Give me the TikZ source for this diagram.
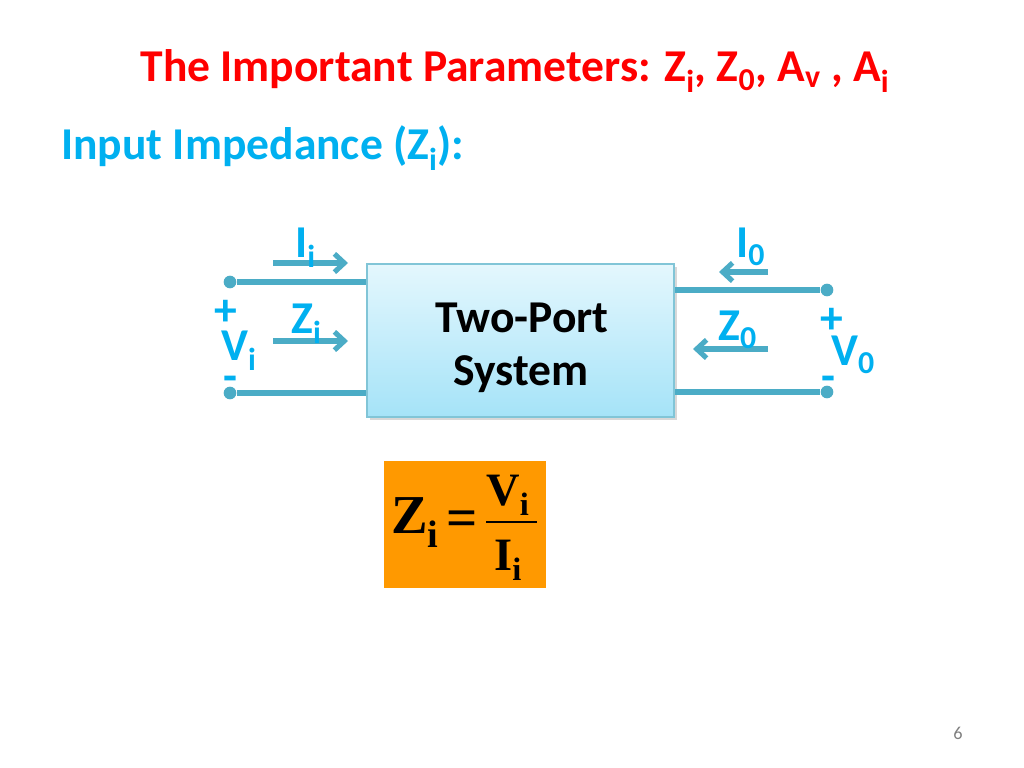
\documentclass[tikz,border=0pt]{standalone}
\usepackage{fontspec}
\setmainfont{Carlito}
\newfontfamily\tnr{Liberation Serif}
\usetikzlibrary{arrows.meta,positioning,shadows}
\definecolor{titlered}{HTML}{FF0000}
\definecolor{headblue}{HTML}{00B0F0}
\definecolor{wire}{HTML}{4BACC6}
\definecolor{boxtop}{HTML}{E4F7FD}
\definecolor{boxbot}{HTML}{A5E3F8}
\definecolor{formula}{HTML}{FF9900}
\tikzset{
  big/.style={font=\fontsize{32.4}{38}\selectfont\bfseries, inner sep=0pt},
  lbl/.style={big, text=headblue, anchor=base west},
  sign/.style={big, text=headblue},
  term/.style={circle, fill=wire, inner sep=0pt, minimum size=9pt},
  wireline/.style={draw=wire, line width=3.6pt},
  flow/.style={draw=wire, line width=3.6pt, -{Straight Barb[length=7pt,width=13pt]}},
  sysbox/.style={draw=wire!70, line width=0.8pt, top color=boxtop, bottom color=boxbot,
                 drop shadow={opacity=0.3, shadow xshift=2pt, shadow yshift=-2pt},
                 minimum width=7.675cm, minimum height=3.825cm},
  zbox/.style={fill=formula, minimum width=4.05cm, minimum height=3.175cm, inner sep=0pt},
  fml/.style={font=\tnr\bfseries\fontsize{33}{36}\selectfont, inner sep=0pt, anchor=base west},
  fbig/.style={fml, font=\tnr\bfseries\fontsize{39}{42}\selectfont}
}

\begin{document}
\begin{tikzpicture}[x=0.025cm, y=-0.025cm]
\fill[white] (0,0) rectangle (1024,768);
\useasboundingbox (0,0) rectangle (1024,768);
% headings
\node[big, text=titlered, anchor=base] (title) at (515,82) {The Important Parameters: Z\textsubscript{i}, Z\textsubscript{0}, A\textsubscript{v} , A\textsubscript{i}};
\node[lbl] (sub) at (61,160) {Input Impedance (Z\textsubscript{i}):};
% two-port block and ports
\node[sysbox] (sys) at (520.5,340.5) {};
\node[big, anchor=base] (sys1) at (522,332) {Two-Port};
\node[big, anchor=base] (sys2) at (521,385) {System};
\node[term] (it) at (230,282) {};
\node[term] (ib) at (230,393) {};
\node[term] (ot) at (827,290) {};
\node[term] (ob) at (827,392) {};
\draw[wireline] (it) -- (it -| sys.west); \draw[wireline] (ib) -- (ib -| sys.west);
\draw[wireline] (ot) -- (ot -| sys.east); \draw[wireline] (ob) -- (ob -| sys.east);
% flow arrows
\coordinate (ii0) at (273,263); \coordinate (ii1) at (348,263);
\coordinate (zi0) at (273,341); \coordinate (zi1) at (348,341);
\coordinate (io0) at (768,272); \coordinate (io1) at (719,272);
\coordinate (zo0) at (768,349); \coordinate (zo1) at (693,349);
\draw[flow] (ii0) -- (ii1); \draw[flow] (zi0) -- (zi1);
\draw[flow] (io0) -- (io1); \draw[flow] (zo0) -- (zo1);
% port labels
\node[lbl] (li) at (295,257) {I\textsubscript{i}};
\node[lbl] (lzi) at (291,333) {Z\textsubscript{i}};
\node[lbl] (lvi) at (221,360) {V\textsubscript{i}};
\node[sign] (pi) at (226,313) {+};
\node[sign] (mi) at (230,384) {-};
\node[lbl] (lo) at (736,257) {I\textsubscript{0}};
\node[lbl] (lzo) at (718,340) {Z\textsubscript{0}};
\node[lbl] (lvo) at (831,365) {V\textsubscript{0}};
\node[sign] (po) at (832,321) {+};
\node[sign] (mo) at (828,384) {-};
% formula
\node[zbox] (zf) at (465,524.5) {};
\node[fbig] (fz) at (391,533) {Z\textsubscript{i}};
\node[fbig] (feq) at (446,536) {=};
\node[fml] (fnum) at (486,505) {V\textsubscript{i}};
\node[fml] (fden) at (494,570) {I\textsubscript{i}};
\draw[line width=1.4pt] (fnum.west |- 0,522) -- (537,522);
\node[font=\fontsize{13}{15}\selectfont, text=gray] (pg) at (958,733) {6};
\end{tikzpicture}
\end{document}
